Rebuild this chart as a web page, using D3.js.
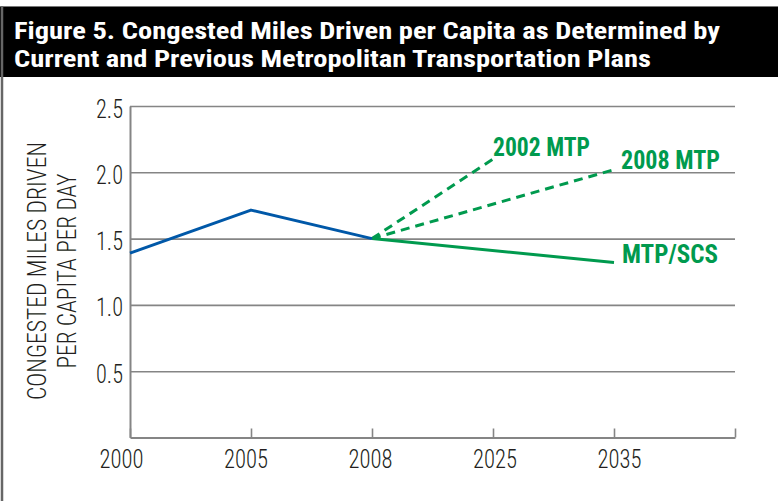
<!DOCTYPE html>
<html>
<head>
<meta charset="utf-8">
<script src="https://cdn.jsdelivr.net/npm/d3@7"></script>
<style>
  html, body { margin: 0; padding: 0; background: #fff; }
  svg { display: block; }
</style>
</head>
<body>
<svg id="chart" width="778" height="501"></svg>
<script>
// ---- data ----
const titleLines = [
  "Figure 5. Congested Miles Driven per Capita as Determined by",
  "Current and Previous Metropolitan Transportation Plans"
];
const yTitleLines = ["CONGESTED MILES DRIVEN", "PER CAPITA PER DAY"];
const categories = ["2000", "2005", "2008", "2025", "2035"];
const yTicks = [0.5, 1.0, 1.5, 2.0, 2.5];
const historic = [["2000", 1.39], ["2005", 1.715], ["2008", 1.5]];
const mtpScs  = [["2008", 1.5], ["2035", 1.32]];
const mtp2008 = [["2008", 1.5], ["2035", 2.02]];
const mtp2002 = [["2008", 1.5], ["2025", 2.1]];
const seriesLabels = ["2002 MTP", "2008 MTP", "MTP/SCS"];

// ---- setup ----
const svg = d3.select("#chart");
const NARROW = "'Liberation Sans Narrow','Arial Narrow','Roboto Condensed',Roboto,sans-serif";
const DARK = "#231f20";
const GREEN = "#009a4e";
const BLUE = "#0058a8";
const GRID = "#858585";

// frame
svg.append("rect").attr("x", 0).attr("y", 7).attr("width", 778).attr("height", 70).attr("fill", "#000");
svg.append("line").attr("x1", 0).attr("x2", 778).attr("y1", 6.5).attr("y2", 6.5).attr("stroke", "#777").attr("stroke-width", 1);
svg.append("line").attr("x1", 2).attr("x2", 2).attr("y1", 6).attr("y2", 501).attr("stroke", "#666").attr("stroke-width", 2.5);

// title
const titleWidths = [706, 637];
svg.selectAll("text.title").data(titleLines).join("text")
  .attr("class", "title")
  .attr("x", 14)
  .attr("y", (d, i) => 39 + i * 27.7)
  .attr("fill", "#fff")
  .attr("font-family", NARROW)
  .attr("font-weight", "bold")
  .attr("font-size", 23)
  .attr("textLength", (d, i) => titleWidths[i])
  .attr("lengthAdjust", "spacingAndGlyphs")
  .text(d => d);

// scales
const x = d3.scalePoint().domain([...categories, ""]).range([130, 735]);
const xLabel = d3.scalePoint().domain(categories).range([121.5, 619.5]);
const y = d3.scaleLinear().domain([0, 2.5]).range([437.5, 106]);

// y axis with gridlines
const yAxis = svg.append("g")
  .attr("transform", "translate(130,0)")
  .call(d3.axisLeft(y).tickValues(yTicks).tickSize(-605).tickSizeOuter(0).tickPadding(7).tickFormat(d3.format(".1f")));
yAxis.select(".domain").attr("stroke", GRID).attr("stroke-width", 2);
yAxis.selectAll(".tick line").attr("stroke", GRID).attr("stroke-width", 1.6);
yAxis.selectAll(".tick text")
  .attr("fill", DARK)
  .attr("font-family", NARROW)
  .attr("font-weight", 300)
  .attr("font-size", 25)
  .attr("dy", "0.44em")
  .attr("textLength", 27)
  .attr("lengthAdjust", "spacingAndGlyphs");

// x axis (ticks point upward)
const xAxis = svg.append("g")
  .attr("transform", "translate(0,437.5)")
  .call(d3.axisBottom(x).tickSize(-9).tickSizeOuter(0).tickFormat(""));
xAxis.select(".domain").attr("stroke", GRID).attr("stroke-width", 2);
xAxis.selectAll(".tick line").attr("stroke", GRID).attr("stroke-width", 1.6);

svg.selectAll("text.xlab").data(categories).join("text")
  .attr("class", "xlab")
  .attr("x", d => xLabel(d))
  .attr("y", 468)
  .attr("text-anchor", "middle")
  .attr("fill", DARK)
  .attr("font-family", NARROW)
  .attr("font-weight", 300)
  .attr("font-size", 25)
  .attr("textLength", 44)
  .attr("lengthAdjust", "spacingAndGlyphs")
  .text(d => d);

// y axis title
const yTitleWidths = [258, 195];
svg.selectAll("text.ytitle").data(yTitleLines).join("text")
  .attr("class", "ytitle")
  .attr("transform", (d, i) => `translate(${45.5 + i * 30.5},271) rotate(-90)`)
  .attr("text-anchor", "middle")
  .attr("fill", DARK)
  .attr("font-family", NARROW)
  .attr("font-weight", 300)
  .attr("font-size", 26)
  .attr("textLength", (d, i) => yTitleWidths[i])
  .attr("lengthAdjust", "spacingAndGlyphs")
  .text(d => d);

// lines
const line = d3.line().x(d => x(d[0])).y(d => y(d[1]));
svg.append("path").datum(mtp2002).attr("d", line).attr("fill", "none")
  .attr("stroke", GREEN).attr("stroke-width", 3).attr("stroke-dasharray", "9,6");
svg.append("path").datum(mtp2008).attr("d", line).attr("fill", "none")
  .attr("stroke", GREEN).attr("stroke-width", 3).attr("stroke-dasharray", "9,6");
svg.append("path").datum(mtpScs).attr("d", line).attr("fill", "none")
  .attr("stroke", GREEN).attr("stroke-width", 3);
svg.append("path").datum(historic).attr("d", line).attr("fill", "none")
  .attr("stroke", BLUE).attr("stroke-width", 3).attr("stroke-linejoin", "round");

// series labels
const labelPos = [
  { x: 493, y: 155.5, w: 97 },
  { x: 621, y: 168.5, w: 99 },
  { x: 622, y: 263, w: 96 }
];
svg.selectAll("text.slab").data(seriesLabels).join("text")
  .attr("class", "slab")
  .attr("x", (d, i) => labelPos[i].x)
  .attr("y", (d, i) => labelPos[i].y)
  .attr("fill", GREEN)
  .attr("font-family", NARROW)
  .attr("font-weight", "bold")
  .attr("font-size", 25)
  .attr("textLength", (d, i) => labelPos[i].w)
  .attr("lengthAdjust", "spacingAndGlyphs")
  .text(d => d);
</script>
</body>
</html>
